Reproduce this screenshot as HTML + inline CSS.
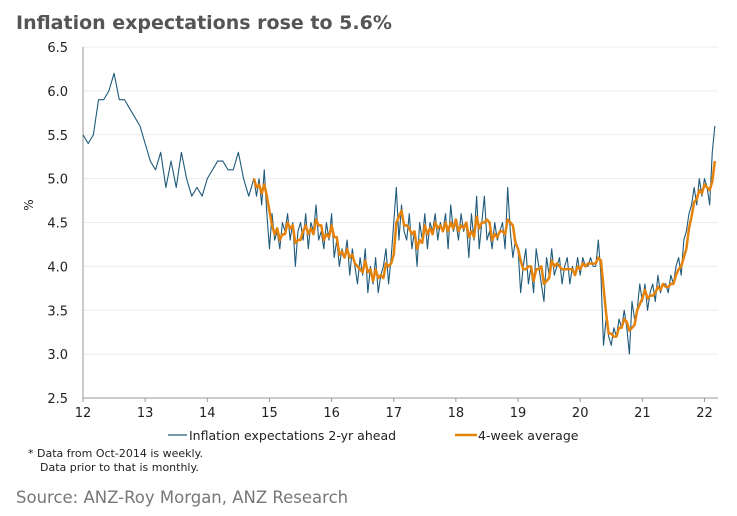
<!DOCTYPE html>
<html><head><meta charset="utf-8"><style>
body{margin:0;width:737px;height:516px;background:#fff;font-family:"DejaVu Sans","Liberation Sans",sans-serif;overflow:hidden}
svg{position:absolute;left:0;top:0}
text{font-family:"DejaVu Sans","Liberation Sans",sans-serif}
</style></head><body>
<svg width="737" height="516">
<text x="16" y="29" font-size="19" font-weight="bold" fill="#555">Inflation expectations rose to 5.6%</text>
<g id="grid"></g>
<g id="axes"></g>
<g id="series"></g>
<text transform="translate(33,205) rotate(-90)" font-size="12" fill="#222" text-anchor="middle">%</text>
<g>
<line x1="168" y1="435" x2="187" y2="435" stroke="#1f5a7a" stroke-width="1.2"/>
<text x="189" y="440" font-size="12.5" fill="#222">Inflation expectations 2-yr ahead</text>
<line x1="455" y1="435" x2="477" y2="435" stroke="#e5820a" stroke-width="2.5"/>
<text x="478" y="440" font-size="12.5" fill="#222">4-week average</text>
</g>
<text x="28" y="457" font-size="11" fill="#222">* Data from  Oct-2014 is weekly.</text>
<text x="40" y="471" font-size="11" fill="#222">Data prior to that is monthly.</text>
<text x="16" y="503" font-size="16.5" fill="#777">Source: ANZ-Roy Morgan, ANZ Research</text>
</svg>
<script>
const yTicks=[2.5,3.0,3.5,4.0,4.5,5.0,5.5,6.0,6.5];
const xTicks=[12,13,14,15,16,17,18,19,20,21,22];
const monthly=[5.5,5.4,5.5,5.9,5.9,6.0,6.2,5.9,5.9,5.8,5.7,5.6,5.4,5.2,5.1,5.3,4.9,5.2,4.9,5.3,5.0,4.8,4.9,4.8,5.0,5.1,5.2,5.2,5.1,5.1,5.3,5.0,4.8];
const weekly=[5.0,4.8,5.0,4.7,5.1,4.6,
4.2,4.6,4.3,4.4,4.2,4.5,4.4,4.6,4.3,4.5,4.0,4.4,4.5,4.3,4.6,4.2,4.5,4.4,4.7,4.3,4.4,4.2,4.5,4.3,
4.6,4.1,4.3,4.0,4.2,4.1,4.3,3.9,4.2,4.0,3.8,4.1,3.9,4.2,3.7,4.0,3.8,4.1,3.7,3.9,4.0,4.2,3.8,4.1,
4.5,4.9,4.3,4.7,4.4,4.3,4.6,4.2,4.4,4.0,4.5,4.3,4.6,4.2,4.5,4.4,4.6,4.3,4.5,4.4,4.6,4.2,4.7,4.4,
4.5,4.3,4.6,4.4,4.5,4.1,4.6,4.3,4.8,4.2,4.5,4.8,4.3,4.4,4.2,4.5,4.3,4.4,4.5,4.2,4.9,4.4,4.1,4.3,
4.2,3.7,4.0,4.2,3.8,4.0,3.7,4.2,4.0,3.8,3.6,4.1,3.9,4.2,3.9,4.0,4.1,3.8,4.0,4.1,3.8,4.0,3.9,4.1,
3.9,4.1,4.0,4.0,4.1,4.0,4.0,4.3,3.9,3.1,3.4,3.2,3.1,3.3,3.2,3.4,3.3,3.5,3.3,3.0,3.6,3.4,3.5,3.8,
3.6,3.8,3.5,3.7,3.8,3.6,3.9,3.7,3.8,3.8,3.7,3.9,3.8,4.0,4.1,3.9,4.3,4.4,4.6,4.7,4.9,4.7,5.0,4.8,
5.0,4.9,4.7,5.3,5.6];
const monthlyStart=12, monthlyStep=1/12, weeklyStart=14.75, weeklyStep=1/24;
const X=v=>83+(v-12)*62.15, Y=v=>398-(v-2.5)*87.75;
const NS='http://www.w3.org/2000/svg';
function mk(tag,attrs,parent){const e=document.createElementNS(NS,tag);for(const k in attrs)e.setAttribute(k,attrs[k]);document.getElementById(parent).appendChild(e);return e;}
yTicks.forEach(t=>{
 if(t>2.5){const g=mk('line',{x1:83,x2:718,y1:Y(t),y2:Y(t),stroke:'#ececec','stroke-width':1},'grid');
 
 }
 const tx=mk('text',{x:68,y:Y(t)+5,'font-size':13,fill:'#222','text-anchor':'end'},'axes');tx.textContent=t.toFixed(1);
 
 
});
xTicks.forEach(t=>{
 const tx=mk('text',{x:X(t),y:417,'font-size':13,fill:'#222','text-anchor':'middle'},'axes');tx.textContent=t;
 
 
 const tk=mk('line',{x1:X(t),x2:X(t),y1:398,y2:402,stroke:'#999'},'axes');
 
 
});
const ya=mk('line',{x1:83,x2:83,y1:47,y2:398,stroke:'#999'},'axes');


const xa=mk('line',{x1:83,x2:718,y1:398,y2:398,stroke:'#999'},'axes');


let pts=monthly.map((v,i)=>X(monthlyStart+i*monthlyStep)+','+Y(v));
pts=pts.concat(weekly.map((v,i)=>X(weeklyStart+i*weeklyStep)+','+Y(v)));
const l1=mk('polyline',{points:pts.join(' '),fill:'none',stroke:'#1f5a7a','stroke-width':1.1,'stroke-linejoin':'round'},'series');


const avg=[];for(let i=0;i<weekly.length;i++){const a=weekly.slice(Math.max(0,i-2),i+1);avg.push([weeklyStart+i*weeklyStep,a.reduce((s,v)=>s+v,0)/a.length]);}
const l2=mk('polyline',{points:avg.map(a=>X(a[0])+','+Y(a[1])).join(' '),fill:'none',stroke:'#e5820a','stroke-width':2.5,'stroke-linejoin':'round'},'series');


</script>
</body></html>
